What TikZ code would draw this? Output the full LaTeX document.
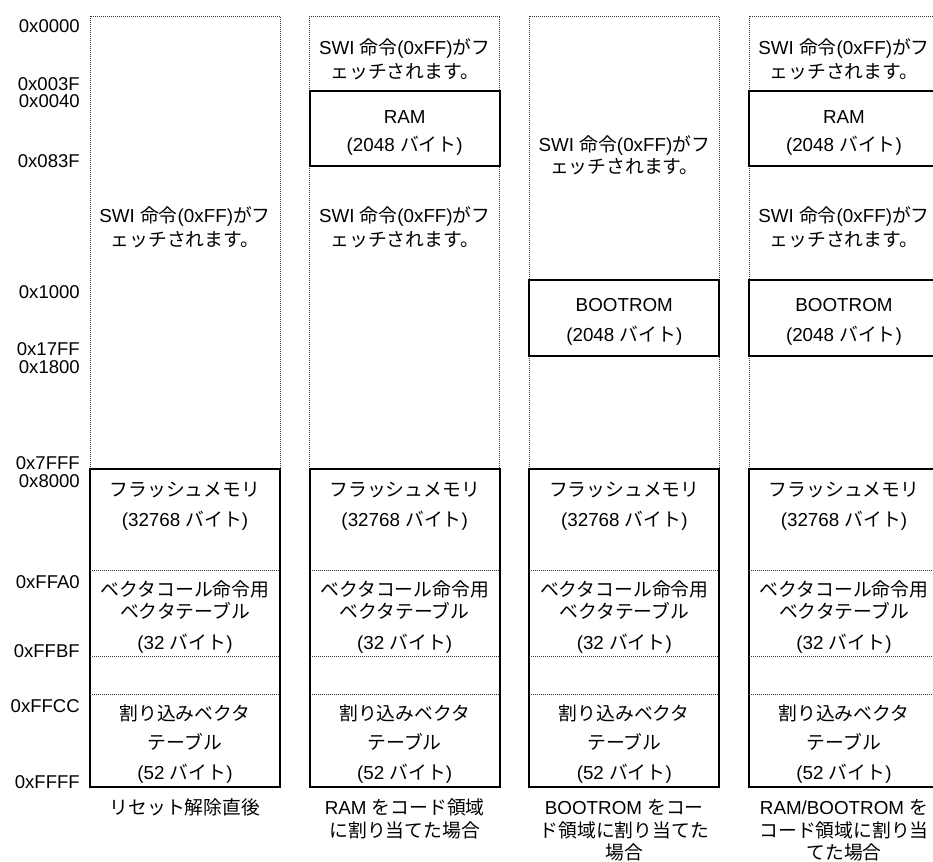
\documentclass[tikz,border=0pt]{standalone}
\usepackage{fontspec}
\setmainfont{Liberation Sans}
\newfontfamily\jpfont{Noto Sans CJK JP}
\newcommand{\jt}[1]{{\jpfont #1}}
\newcommand{\swiA}{SWI \jt{命令}(0xFF)\jt{がフ}}
\newcommand{\swiB}{\jt{ェッチされます。}}

\tikzset{
  frame/.style={black!80, line width=0.6pt, dash pattern=on 0.6pt off 0.9pt},
  block/.style={line width=1.3pt},
  lbl/.style={inner sep=0pt, text height=11pt, text depth=1pt, font=\fontsize{14.1}{16}\selectfont},
  addr/.style={lbl, anchor=east, text height=9.2pt, text depth=0pt, font=\fontsize{13.9}{16}\selectfont},
}

\begin{document}
\begin{tikzpicture}[x=0.75pt, y=-0.75pt]
  %memory map
    \useasboundingbox (0,0) rectangle (933,862);

    \foreach \a/\y in {0x0000/26, 0x003F/84.5, 0x0040/101.8, 0x083F/161, 0x1000/292,
                       0x17FF/349.5, 0x1800/367.2, 0x7FFF/463.5, 0x8000/481.5,
                       0xFFA0/582, 0xFFBF/651, 0xFFCC/706, 0xFFFF/782}
      \node[addr] (addr\a) at (80,\y) {\a};

    \foreach \i/\x in {1/90, 2/309.7, 3/529.3, 4/749} {
      \draw[frame] (\x,469) -- (\x,16) -- (\x+190,16) -- (\x+190,469);
      \draw[block] (\x,469) rectangle (\x+190,787);
      \foreach \y in {570,656,694} \draw[frame] (\x,\y) -- (\x+190,\y);
      \node[lbl] (flash\i) at (\x+95,490) {\jt{フラッシュメモリ}};
      \node[lbl] (flashsz\i) at (\x+95,520) {(32768 \jt{バイト})};
      \node[lbl] (vcall\i) at (\x+95,590) {\jt{ベクタコール命令用}};
      \node[lbl] (vtab\i) at (\x+95,612) {\jt{ベクタテーブル}};
      \node[lbl] (vtabsz\i) at (\x+95,643) {(32 \jt{バイト})};
      \node[lbl] (irq\i) at (\x+95,714) {\jt{割り込みベクタ}};
      \node[lbl] (irqtab\i) at (\x+95,743) {\jt{テーブル}};
      \node[lbl] (irqsz\i) at (\x+95,773) {(52 \jt{バイト})};
    }

    % column 1
    \node[lbl] (swia1) at (185,216) {\swiA};
    \node[lbl] (swib1) at (185,240) {\swiB};
    \node[lbl] (cap1) at (185,808) {\jt{リセット解除直後}};

    % column 2
    \draw[block] (309.7,91) rectangle (499.7,166);
    \node[lbl] (swia2) at (404.7,48) {\swiA};
    \node[lbl] (swib2) at (404.7,72) {\swiB};
    \node[lbl] (ram2) at (404.7,117) {RAM};
    \node[lbl] (ramsz2) at (404.7,145) {(2048 \jt{バイト})};
    \node[lbl] (swic2) at (404.7,216) {\swiA};
    \node[lbl] (swid2) at (404.7,240) {\swiB};
    \node[lbl] (cap2a) at (404.7,808) {RAM \jt{をコード領域}};
    \node[lbl] (cap2b) at (404.7,831) {\jt{に割り当てた場合}};

    % column 3
    \draw[block] (529.3,280) rectangle (719.3,356);
    \node[lbl] (swia3) at (624.3,145) {\swiA};
    \node[lbl] (swib3) at (624.3,167) {\swiB};
    \node[lbl] (boot3) at (624.3,305) {BOOTROM};
    \node[lbl] (bootsz3) at (624.3,335) {(2048 \jt{バイト})};
    \node[lbl] (cap3a) at (624.3,808) {BOOTROM \jt{をコー}};
    \node[lbl] (cap3b) at (624.3,831) {\jt{ド領域に割り当てた}};
    \node[lbl] (cap3c) at (624.3,853) {\jt{場合}};

    % column 4
    \draw[block] (749,91) rectangle (939,166);
    \draw[block] (749,280) rectangle (939,356);
    \node[lbl] (swia4) at (844,48) {\swiA};
    \node[lbl] (swib4) at (844,72) {\swiB};
    \node[lbl] (ram4) at (844,117) {RAM};
    \node[lbl] (ramsz4) at (844,145) {(2048 \jt{バイト})};
    \node[lbl] (swic4) at (844,216) {\swiA};
    \node[lbl] (swid4) at (844,240) {\swiB};
    \node[lbl] (boot4) at (844,305) {BOOTROM};
    \node[lbl] (bootsz4) at (844,335) {(2048 \jt{バイト})};
    \node[lbl] (cap4a) at (844,808) {RAM/BOOTROM \jt{を}};
    \node[lbl] (cap4b) at (844,831) {\jt{コード領域に割り当}};
    \node[lbl] (cap4c) at (844,853) {\jt{てた場合}};
  \end{tikzpicture}
\end{document}
